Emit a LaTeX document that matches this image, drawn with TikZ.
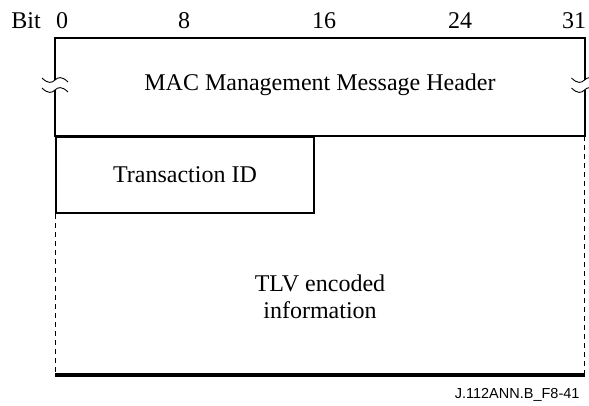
\documentclass[tikz,border=0pt]{standalone}
\usepackage{fontspec}
\setmainfont{Liberation Serif}
\newfontfamily\figfont{Liberation Sans}
\usetikzlibrary{positioning}

\begin{document}
\begin{tikzpicture}[x=1pt,y=-1pt,font=\fontsize{24}{27}\selectfont,
 frame/.style={line width=2pt},
 open/.style={line width=0.9pt,dash pattern=on 5pt off 4pt},
 brk/.style={line width=0.9pt},
 idlabel/.style={font=\figfont\fontsize{14.5}{16}\selectfont,anchor=base east}]
\useasboundingbox (0,0) rectangle (589,405);
% bit ruler
\node[anchor=base] (bitlbl) at (26,28) {Bit};
\foreach \b/\x in {0/62,8/184,16/324,24/460,31/574}
  \node[anchor=base] (bit\b) at (\x,28) {\b};
% corners of the message
\coordinate (nw) at (55,38);
\coordinate (ne) at (584.5,38);
\coordinate (hw) at (55,136);
\coordinate (he) at (584.5,136);
\coordinate (sw) at (55,375);
\coordinate (se) at (584.5,375);
% header, sides broken
\draw[frame] (55,80) -- (nw) -- (ne) -- (584.5,80);
\draw[frame] (55,90) -- (hw) -- (he) -- (584.5,90);
\foreach \xb in {55,584.5}
  \foreach \yb in {80,90}
    \draw[brk] ({\xb-13},{\yb-2}) .. controls ({\xb-7},{\yb+4}) and ({\xb-3},{\yb+3}) .. (\xb,\yb)
      .. controls ({\xb+3},{\yb-3}) and ({\xb+7},{\yb-4}) .. ({\xb+13},{\yb+2});
\node (hdr) at (320,85) {MAC Management Message Header};
% transaction id
\node[draw,frame,minimum width=258,minimum height=76,anchor=north west,inner sep=0pt] (tid) at (hw) {Transaction ID};
% tlv part
\draw[open] (tid.south west) -- (sw);
\draw[open] (he) -- (se);
\draw[line width=3.5pt] (sw) -- (se);
\node[align=center] (tlv) at (320,297) {TLV encoded\\information};
\node[idlabel] (figid) at (583,398) {J.112ANN.B\_F8-41};
\end{tikzpicture}
\end{document}
